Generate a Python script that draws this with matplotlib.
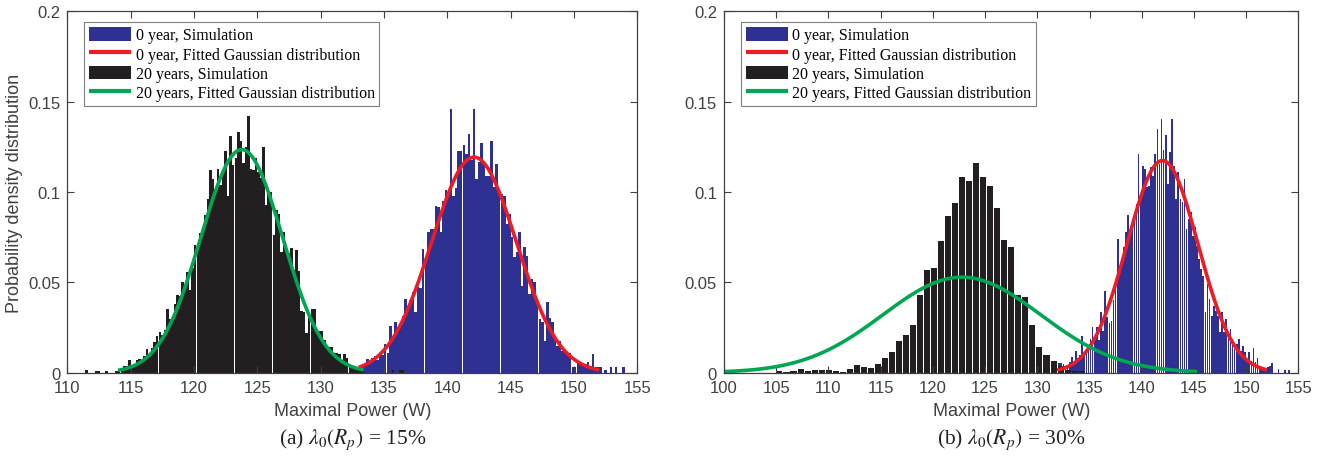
import numpy as np
import matplotlib
matplotlib.use("Agg")
import matplotlib.pyplot as plt

# ---------------- data ----------------
# (a) lambda0 = 15 %
a_black_start, a_black_width = 111.4, 0.2
a_black = [0.0016, 0, 0, 0, 0.0007, 0.0007, 0, 0, 0.0007, 0, 0, 0, 0.0007, 0.0015,
           0.0025, 0.0035, 0.0035, 0.007, 0.004, 0.005, 0.007, 0.0075, 0.007, 0.009,
           0.0131, 0.009, 0.0135, 0.017, 0.020, 0.0223, 0.021, 0.0235, 0.035, 0.0297,
           0.030, 0.038, 0.043, 0.0425, 0.050, 0.049, 0.0556, 0.046, 0.058, 0.0707,
           0.0707, 0.0773, 0.080, 0.087, 0.0962, 0.112, 0.107, 0.100, 0.1128, 0.104,
           0.110, 0.1226, 0.098, 0.131, 0.115, 0.119, 0.133, 0.128, 0.116, 0.125,
           0.142, 0.113, 0.112, 0.119, 0.111, 0.108, 0.125, 0.093, 0.099, 0.100,
           0.076, 0.090, 0.088, 0.0666, 0.078, 0.0666, 0.066, 0.069, 0.057, 0.068,
           0.056, 0.034, 0.0334, 0.022, 0.0306, 0.035, 0.035, 0.024, 0.023, 0.023,
           0.018, 0.0149, 0.014, 0.014, 0.011, 0.011, 0.0103, 0.0066, 0.0103, 0.008,
           0.004, 0.003, 0.003, 0.002, 0.001, 0.001, 0, 0, 0, 0, 0, 0, 0, 0, 0, 0, 0,
           0.0013, 0, 0, 0.0013, 0.0013]
a_blue_start, a_blue_width = 132.8, 0.2
a_blue = [0.002, 0.002, 0.003, 0.005, 0.0075, 0.006, 0.0083, 0.009, 0.007, 0.0103,
          0.010, 0.0158, 0.011, 0.026, 0.0205, 0.028, 0.025, 0.0275, 0.0316, 0.0408,
          0.037, 0.040, 0.0444, 0.0334, 0.0473, 0.047, 0.0685, 0.061, 0.0781, 0.0796,
          0.0795, 0.0925, 0.0916, 0.078, 0.095, 0.101, 0.0998, 0.146, 0.098, 0.102,
          0.1226, 0.1226, 0.126, 0.121, 0.132, 0.118, 0.146, 0.107, 0.1165, 0.127,
          0.1155, 0.109, 0.109, 0.1285, 0.103, 0.1155, 0.1008, 0.099, 0.098, 0.0823,
          0.088, 0.0749, 0.0638, 0.0666, 0.0777, 0.048, 0.0694, 0.0648, 0.0435, 0.0518,
          0.050, 0.039, 0.0297, 0.028, 0.0177, 0.039, 0.030, 0.028, 0.0186, 0.0149,
          0.0177, 0.0121, 0.012, 0.011, 0.011, 0.003, 0.003, 0.0057, 0.0057, 0.0047,
          0.0047, 0.0057, 0.0039, 0.0103, 0.003, 0.003, 0.003, 0, 0.0016, 0, 0.003,
          0, 0.003, 0, 0, 0.003]
# fitted Gaussians: mean, std, x-from, x-to
a_fit_0y = (142.11, 3.344, 133.0, 152.0)
a_fit_20y = (123.77, 3.23, 114.0, 133.4)

# (b) lambda0 = 30 %
b_black_start, b_black_width = 104.97, 0.673
b_black = [0.0011, 0.0004, 0.0010, 0.0022, 0.0010, 0.0016, 0.0016, 0.0016, 0.0009,
           0.0004, 0.0022, 0.0044, 0.0033, 0.0026, 0.0048, 0.0082, 0.0115, 0.0176,
           0.0207, 0.0264, 0.0429, 0.0570, 0.0582, 0.0729, 0.0866, 0.0940, 0.1081,
           0.1059, 0.1158, 0.1081, 0.1031, 0.0910, 0.0734, 0.0696, 0.0430, 0.0416,
           0.0264, 0.0141, 0.0099, 0.0066, 0.0038, 0.0015, 0.0007, 0.0007]
b_blue_start, b_blue_width = 132.0, 0.2
b_blue = [0.0054, 0.0054, 0.005, 0.003, 0.004, 0.006, 0.0087, 0.006, 0.0122, 0.008,
          0.010, 0.0205, 0.009, 0.0112, 0.0135, 0.0186, 0.025, 0.018, 0.025, 0.018,
          0.0334, 0.023, 0.0454, 0.0306, 0.0275, 0.0288, 0.040, 0.049, 0.074, 0.0593,
          0.063, 0.0694, 0.0777, 0.0873, 0.0768, 0.0814, 0.085, 0.0934, 0.1211, 0.098,
          0.1146, 0.1128, 0.1027, 0.1036, 0.1137, 0.109, 0.1211, 0.135, 0.1155, 0.1405,
          0.123, 0.1313, 0.1045, 0.122, 0.1405, 0.1146, 0.0962, 0.1109, 0.0962, 0.0943,
          0.1072, 0.0795, 0.085, 0.0888, 0.0759, 0.0805, 0.0703, 0.063, 0.0574, 0.0537,
          0.0334, 0.049, 0.0408, 0.0316, 0.037, 0.0343, 0.0316, 0.0223, 0.0334, 0.0223,
          0.0297, 0.0195, 0.0241, 0.0186, 0.0131, 0.0158, 0.0186, 0.0121, 0.0149, 0.0112,
          0.0075, 0.0112, 0.0066, 0.0135, 0.0057, 0.0079, 0.0039, 0.003, 0.002, 0.002,
          0.003, 0.0039, 0.0054, 0, 0, 0.002, 0, 0, 0.0016, 0, 0.0016]
b_fit_0y = (141.99, 3.398, 131.9, 152.0)
b_fit_20y = (122.77, 7.55, 100.0, 145.3)

labels = ["0 year, Simulation", "0 year, Fitted Gaussian distribution",
          "20 years, Simulation", "20 years, Fitted Gaussian distribution"]
captions = [r"(a) $\lambda_{\mathit{0}}(R_p)$ = 15%", r"(b) $\lambda_{\mathit{0}}(R_p)$ = 30%"]
xlims = [(110, 155), (100, 155)]
yticks = [0, 0.05, 0.1, 0.15, 0.2]
ytick_labels = ["0", "0.05", "0.1", "0.15", "0.2"]

# ---------------- style ----------------
plt.rcParams["font.family"] = ["Liberation Sans", "DejaVu Sans"]
plt.rcParams["mathtext.fontset"] = "stix"
BLUE = "#2E3192"
BLACK = "#231F20"
RED = "#ED1C24"
GREEN = "#00A651"
AXC = "#404040"

fig = plt.figure(figsize=(13.22, 4.6), dpi=100)
axes = [fig.add_axes([0.0509, 0.1878, 0.4312, 0.7852]),
        fig.add_axes([0.5477, 0.1878, 0.4344, 0.7852])]


def centers(start, width, n):
    return start + width * (np.arange(n) + 0.5)


def gauss(ax, p, color):
    mu, sd, lo, hi = p
    x = np.linspace(lo, hi, 400)
    y = np.exp(-0.5 * ((x - mu) / sd) ** 2) / (sd * np.sqrt(2 * np.pi))
    return ax.plot(x, y, color=color, lw=2.6, solid_capstyle="butt")[0]


panels = [
    (a_blue_start, a_blue_width, a_blue, a_black_start, a_black_width, a_black,
     a_fit_0y, a_fit_20y, 0.97, 0.97),
    (b_blue_start, b_blue_width, b_blue, b_black_start, b_black_width, b_black,
     b_fit_0y, b_fit_20y, 0.8, 0.86),
]

for i, (ax, pan) in enumerate(zip(axes, panels)):
    bs, bw, bv, ks, kw, kv, f0, f20, fb, fk = pan
    hb = ax.bar(centers(bs, bw, len(bv)), bv, width=bw * fb, color=BLUE,
                linewidth=0, label=labels[0])
    hk = ax.bar(centers(ks, kw, len(kv)), kv, width=kw * fk,
                color=BLACK, linewidth=0, label=labels[2])
    hr = gauss(ax, f0, RED)
    hg = gauss(ax, f20, GREEN)
    ax.set_xlim(*xlims[i])
    ax.set_ylim(0, 0.2)
    ax.set_xticks(np.arange(xlims[i][0], xlims[i][1] + 1, 5))
    ax.set_yticks(yticks)
    ax.set_yticklabels(ytick_labels)
    ax.tick_params(direction="in", top=True, right=True, length=5, width=0.8,
                   colors=AXC, labelsize=12, pad=5)
    for s in ax.spines.values():
        s.set_color(AXC)
        s.set_linewidth(0.9)
    ax.set_xlabel("Maximal Power (W)", fontsize=13, color=AXC, labelpad=5)
    if i == 0:
        ax.set_ylabel("Probability density distribution", fontsize=13, color=AXC,
                      labelpad=4)
    leg = ax.legend([hb, hr, hk, hg], labels, loc="upper left",
                    bbox_to_anchor=(0.03, 0.97),
                    prop={"family": "Liberation Serif", "size": 11.5},
                    handlelength=2.6, handleheight=0.95, handletextpad=0.3,
                    labelspacing=0.18, borderpad=0.3, borderaxespad=0.0,
                    frameon=True, fancybox=False, framealpha=1)
    leg.get_frame().set_edgecolor("#7f7f7f")
    leg.get_frame().set_linewidth(0.8)
    for ln in leg.get_lines():
        ln.set_linewidth(3)
    ax.text(0.5, -0.148, captions[i], transform=ax.transAxes, ha="center", va="top",
            fontsize=15.5, family="Liberation Serif", color="#231F20")

fig.savefig("out.png", dpi=100)
